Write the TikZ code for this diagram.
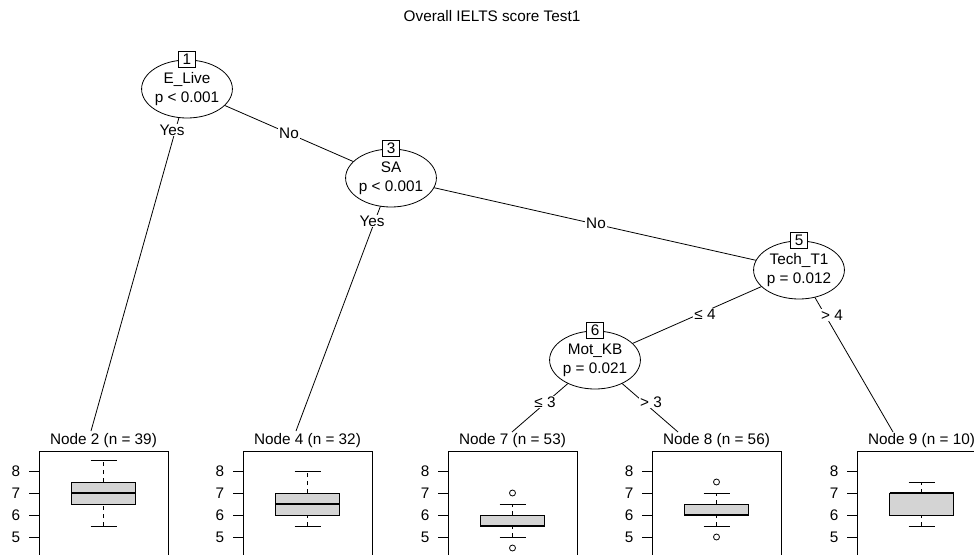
\documentclass[tikz,border=0pt]{standalone}
\usepackage{fontspec}
\setmainfont{Liberation Sans}
\usetikzlibrary{shapes.geometric}
\definecolor{boxgray}{gray}{0.83}
\newcommand{\yv}[1]{471+(8-#1)*22}
\tikzset{
  every node/.style={font=\fontsize{15.3}{19}\selectfont},
  edge/.style={line width=0.8pt},
  elabel/.style={fill=white,inner sep=1pt},
  inner/.style={draw,ellipse,fill=white,line width=0.8pt,minimum width=86pt,minimum height=58pt,inner sep=0pt,align=center},
  idbox/.style={draw,fill=white,line width=0.8pt,minimum width=17pt,minimum height=16pt,inner sep=0pt},
  panel/.style={line width=0.8pt},
  whisker/.style={line width=0.8pt,dash pattern=on 4pt off 4pt},
  median/.style={line width=2pt},
  termlabel/.style={inner sep=0pt},
  ticklabel/.style={inner sep=0pt}
}
\newcommand{\termpanel}[8]{%
  \pgfmathsetmacro{\pl}{#2}%
  \pgfmathsetmacro{\pc}{#2+64.5}%
  \draw[panel] (\pl,451) rectangle (\pl+129,580);
  \node[termlabel] (#1) at (\pc,441) {#3};
  \foreach \v in {5,6,7,8} {
    \draw[panel] (\pl-10,{\yv{\v}}) -- (\pl,{\yv{\v}});
    \node[ticklabel] (#1-t\v) at (\pl-23,{\yv{\v}}) {\v};
  }
  \draw[whisker] (\pc,{\yv{#4}}) -- (\pc,{\yv{#5}}) (\pc,{\yv{#7}}) -- (\pc,{\yv{#8}});
  \draw[panel] (\pc-13,{\yv{#4}}) -- (\pc+13,{\yv{#4}}) (\pc-13,{\yv{#8}}) -- (\pc+13,{\yv{#8}});
  \filldraw[panel,fill=boxgray] (\pc-32,{\yv{#5}}) rectangle (\pc+32,{\yv{#7}});
  \draw[median] (\pc-32,{\yv{#6}}) -- (\pc+32,{\yv{#6}});
}
\begin{document}
\begin{tikzpicture}[x=1pt,y=-1pt]
\useasboundingbox (0,0) rectangle (974,554);
\clip (0,0) rectangle (974,554);
\fill[white] (0,0) rectangle (974,554);

\node (title) at (492,16) {Overall IELTS score Test1};

% end points of edges at terminal panels
\coordinate (c2) at (91,431);
\coordinate (c4) at (296,431);
\coordinate (c7) at (512,432);
\coordinate (c8) at (678,432);
\coordinate (c9) at (893,432);

% inner node positions
\coordinate (p1) at (187,89);
\coordinate (p3) at (391,178);
\coordinate (p5) at (799,270);
\coordinate (p6) at (595,360);

% edges
\draw[edge] (p1) -- (c2);
\draw[edge] (p1) -- (p3);
\draw[edge] (p3) -- (c4);
\draw[edge] (p3) -- (p5);
\draw[edge] (p5) -- (p6);
\draw[edge] (p5) -- (c9);
\draw[edge] (p6) -- (c7);
\draw[edge] (p6) -- (c8);

% edge labels
\node[elabel] (l12) at (172,130) {Yes};
\node[elabel] (l13) at (289,133) {No};
\node[elabel] (l34) at (372,221) {Yes};
\node[elabel] (l35) at (596,223) {No};
\node[elabel] (l56) at (705,314) {≤ 4};
\node[elabel] (l59) at (832,315) {> 4};
\node[elabel] (l67) at (545,402) {≤ 3};
\node[elabel] (l68) at (651,402) {> 3};

% inner nodes
\node[inner] (n1) at (p1) {E\_Live\\p < 0.001};
\node[idbox] (b1) at (n1.north) {1};
\node[inner] (n3) at (p3) {SA\\p < 0.001};
\node[idbox] (b3) at (n3.north) {3};
\node[inner] (n5) at (p5) {Tech\_T1\\p = 0.012};
\node[idbox] (b5) at (n5.north) {5};
\node[inner] (n6) at (p6) {Mot\_KB\\p = 0.021};
\node[idbox] (b6) at (n6.north) {6};

% terminal panels: name, left, label, lo, q1, med, q3, hi
\termpanel{t2}{39}{Node 2 (n = 39)}{5.5}{6.5}{7}{7.5}{8.5}
\termpanel{t4}{243}{Node 4 (n = 32)}{5.5}{6}{6.5}{7}{8}
\termpanel{t7}{448}{Node 7 (n = 53)}{5}{5.5}{5.5}{6}{6.5}
\termpanel{t8}{652}{Node 8 (n = 56)}{5.5}{6}{6}{6.5}{7}
\termpanel{t9}{857}{Node 9 (n = 10)}{5.5}{6}{7}{7}{7.5}

% outliers
\draw[panel] (512.5,{\yv{7}}) circle[radius=3pt];
\draw[panel] (512.5,{\yv{4.5}}) circle[radius=3pt];
\draw[panel] (716.5,{\yv{7.5}}) circle[radius=3pt];
\draw[panel] (716.5,{\yv{5}}) circle[radius=3pt];
\end{tikzpicture}
\end{document}
